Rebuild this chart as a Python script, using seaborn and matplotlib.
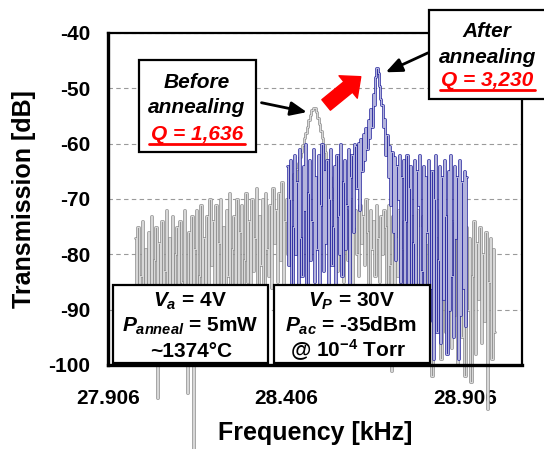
import numpy as np
import matplotlib
matplotlib.use("Agg")
import matplotlib.pyplot as plt
import seaborn as sns
from matplotlib.patches import Rectangle
from matplotlib.lines import Line2D

# --- data ------------------------------------------------------------------
# before annealing sweep (gray), evenly spaced in frequency
before_start, before_stop = 27.9816, 28.9900
before_db = [
    -77, -88, -75, -93, -84, -74, -96, -79, -91, -76,
    -86, -73, -94, -81, -75, -106, -78, -89, -74, -92,
    -83, -72, -97, -77, -87, -73, -90, -80, -75, -95,
    -74, -85, -91, -72, -88, -105, -76, -93, -73, -118,
    -79, -72, -90, -84, -71, -95, -77, -86, -73, -92, -70,
    -82, -74, -89, -71, -93, -78, -70, -87, -75, -91,
    -72, -84, -69, -90, -79, -73, -86, -70, -94, -76,
    -71, -88, -81, -69, -85, -74, -90, -70, -83, -77,
    -68, -89, -73, -82, -70, -87, -69, -79, -84, -71,
    -86, -68, -78, -72, -85, -69, -81, -67, -88, -74,
    -70, -80, -67,
    -66.5, -70, -65.5, -67, -64.5, -63.5, -62.5, -61.5, -60.3, -59,
    -58, -57, -55.8, -54.8, -54, -53.5, -53.6, -54.3, -55.3, -56.5,
    -57.8, -59, -60.2, -61.5, -63, -64.5, -66, -68, -70,
    -76, -71, -83, -73, -79, -70, -85, -74, -72, -81,
    -77, -70, -86, -75, -72, -80, -84, -71, -78, -73,
    -82, -70, -76, -87, -72, -79, -74, -84, -71, -77,
    -85, -73, -80, -72,
    -75, -88, -71, -82, -101, -73, -90, -77, -84, -72,
    -93, -79, -74, -87, -71, -95, -76, -83, -73, -91,
    -80, -72, -97, -75, -86, -73, -92, -78, -71, -96,
    -84, -102, -74, -89, -77, -93, -72, -99, -80, -75,
    -94, -73, -87, -78, -97, -74, -91, -76, -100, -82,
    -73, -95, -79, -102, -75, -90, -77, -103, -84, -74,
    -98, -78, -88, -75, -96, -80, -92, -76, -108, -85,
    -77, -99, -79, -94,
]
# after annealing sweep (blue)
after_start, after_stop = 28.4073, 28.9115
after_db = [
    -64, -82, -70, -63, -86, -75, -62, -80, -67, -88,
    -61, -77, -84, -64, -72, -60, -87, -69, -63, -81,
    -74, -61, -85, -66, -79, -62, -88, -71, -60, -83,
    -65, -78, -63, -86, -70, -61, -82, -75, -64, -89,
    -62, -73, -80, -60, -84, -67, -63, -79, -71, -61,
    -86, -66, -62, -76, -60,
    -60.5, -68, -59.8, -72, -59.2, -65, -58.3, -63, -57.2, -61,
    -55.8, -59, -53.8, -57, -51, -53, -48, -46.3, -47.2, -49.5,
    -52, -53, -57, -55.5, -62, -58.5, -66, -60.5, -71, -61.5,
    -76, -62.5, -81, -64, -70, -62,
    -85, -66, -63, -90, -74, -62, -93, -68, -64, -87,
    -78, -63, -95, -65, -71, -62, -89, -83, -64, -97,
    -66, -76, -63, -92, -86, -65, -99, -70, -62, -94,
    -81, -64, -96, -66, -88, -63, -73, -98, -65, -90,
    -62, -84, -95, -64, -77, -66, -99, -63, -91, -67,
    -86, -65, -93, -66,
]
x_ticks = [27.906, 28.406, 28.906]
y_ticks = [-40, -50, -60, -70, -80, -90, -100]

before_freq = np.linspace(before_start, before_stop, len(before_db))
after_freq = np.linspace(after_start, after_stop, len(after_db))

sns.set_theme(style="white")
plt.rcParams["font.family"] = ["Liberation Sans", "DejaVu Sans"]
plt.rcParams["font.weight"] = "bold"
plt.rcParams["mathtext.fontset"] = "custom"
plt.rcParams["mathtext.rm"] = "Liberation Sans:bold"
plt.rcParams["mathtext.it"] = "Liberation Sans:italic:bold"
plt.rcParams["mathtext.bf"] = "Liberation Sans:bold"
for key in ["text.color", "axes.labelcolor", "xtick.color", "ytick.color"]:
    plt.rcParams[key] = "black"

W, H = 544, 449
fig = plt.figure(figsize=(W / 100, H / 100), dpi=100)
ax = fig.add_axes([108 / W, 1 - 365 / H, (522 - 108) / W, (365 - 33) / H])

# hollow looking traces: coloured stroke with a thin white core
for freq, db, col in [(before_freq, before_db, "#959595"),
                      (after_freq, after_db, "#3434a4")]:
    sns.lineplot(x=freq, y=db, ax=ax, color=col, lw=1.9, drawstyle="steps-mid",
                 clip_on=False, estimator=None, sort=False)
    sns.lineplot(x=freq, y=db, ax=ax, color="white", lw=0.45, drawstyle="steps-mid",
                 clip_on=False, estimator=None, sort=False)

ax.set_xlim(27.906, 27.906 + 414 / 357)
ax.set_ylim(-100, -40)
ax.set_xticks(x_ticks)
ax.set_xticklabels([f"{t:.3f}" for t in x_ticks])
ax.set_yticks(y_ticks)
ax.set_yticklabels([str(t) for t in y_ticks])
ax.tick_params(length=0, labelsize=15, colors="black")
ax.tick_params(axis="x", pad=17)
ax.tick_params(axis="y", pad=13)
ax.yaxis.grid(True, linestyle=(0, (4, 3)), color="#9a9a9a", lw=0.8)
ax.set_axisbelow(True)
for side in ["left", "bottom"]:
    ax.spines[side].set_linewidth(2.4)
for side in ["top", "right"]:
    ax.spines[side].set_linewidth(1.6)
for s in ax.spines.values():
    s.set_color("black")

ax.set_xlabel("Frequency [kHz]", fontsize=18, fontweight="bold", color="black")
ax.set_ylabel("Transmission [dB]", fontsize=18, fontweight="bold", color="black")
ax.xaxis.set_label_coords(0.5, -0.17)
ax.yaxis.set_label_coords(-0.175, 0.5)


def fx(x, y):
    return x / W, 1 - y / H


def box(x0, y0, x1, y1):
    fig.add_artist(Rectangle(fx(x0, y1), (x1 - x0) / W, (y1 - y0) / H,
                             transform=fig.transFigure, facecolor="white",
                             edgecolor="black", lw=1.6, zorder=5))


def label(x, y, s, **kw):
    kw.setdefault("color", "black")
    fig.text(*fx(x, y), s, ha="center", va="baseline", fontsize=15,
             fontweight="bold", zorder=6, **kw)


def underline(x0, x1, y):
    fig.add_artist(Line2D([x0 / W, x1 / W], [1 - y / H] * 2, color="red",
                          lw=2, transform=fig.transFigure, zorder=6))


box(139, 60, 256, 152)
label(197, 88, "Before", style="italic")
label(197, 113, "annealing", style="italic")
label(197, 140, "Q = 1,636", style="italic", color="red")
underline(149, 245, 144)

box(429, 10, 548, 99)
label(487, 37, "After", style="italic")
label(488, 63, "annealing", style="italic")
label(487, 86, "Q = 3,230", style="italic", color="red")
underline(440, 535, 90)

box(113, 285, 268, 363)
label(190, 307, "$V_a$ = 4V")
label(190, 332, "$P_{anneal}$ = 5mW")
label(191, 357, "~1374°C")

box(274, 285, 430, 363)
label(352, 307, "$V_P$ = 30V")
label(351, 332, "$P_{ac}$ = -35dBm")
label(348, 357, "@ 10$^{\\mathrm{-4}}$ Torr")

# arrows, positions in data units
arrow_kw = dict(arrowstyle="-|>,head_length=0.7,head_width=0.3", color="black",
                lw=2, mutation_scale=14, shrinkA=0, shrinkB=0)
ax.annotate("", xy=(28.463, -54.3), xytext=(28.336, -52.6),
            arrowprops=arrow_kw, annotation_clip=False)
ax.annotate("", xy=(28.684, -47.1), xytext=(28.802, -43.6),
            arrowprops=arrow_kw, annotation_clip=False)
ax.annotate("", xy=(28.614, -47.9), xytext=(28.517, -53.0),
            arrowprops=dict(arrowstyle="simple,head_length=0.9,head_width=1.6,tail_width=0.75",
                            color="red", mutation_scale=13, shrinkA=0, shrinkB=0),
            annotation_clip=False)

fig.savefig("out.png", dpi=100)
